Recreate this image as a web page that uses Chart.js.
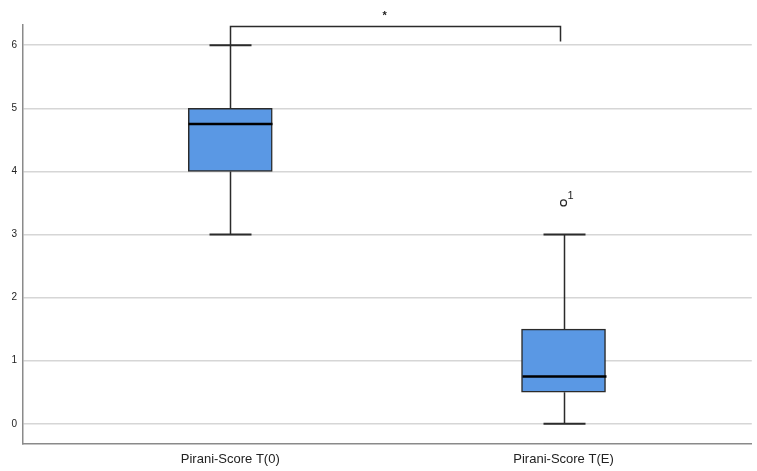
<!DOCTYPE html>
<html>
<head>
<meta charset="utf-8">
<script src="https://cdn.jsdelivr.net/npm/chart.js@4/dist/chart.umd.min.js"></script>
<style>
  body { margin: 0; background: #fff; }
  canvas { display: block; }
</style>
</head>
<body>
<canvas id="boxChart" width="757" height="471"></canvas>
<script>
// Box plot data
const categories = ['Pirani-Score T(0)', 'Pirani-Score T(E)'];
const positions = [1, 2];
const whiskerLow = [3, 0];
const q1 = [4, 0.5];
const median = [4.75, 0.75];
const q3 = [5, 1.5];
const whiskerHigh = [6, 3];

// Outliers: position, value, case label
const outlierPos = [2];
const outlierValue = [3.5];
const outlierLabel = ['1'];

// Significance bracket between the two boxes
const bracketLevel = 6.3;
const bracketLegs = [6, 6.06];
const bracketText = '*';
const bracketTextPos = 1.463;

const yTicks = [0, 1, 2, 3, 4, 5, 6];

const BOX_FILL = '#5a98e4';
const LINE_DARK = '#2b2b2b';

// Draw whiskers, caps and medians on top of the floating bars
const boxPlotPlugin = {
    id: 'boxPlot',
    afterDatasetsDraw(chart) {
        const ctx = chart.ctx;
        const xs = chart.scales.x;
        const ys = chart.scales.y;
        const boxW = 84;
        const capW = 42;
        ctx.save();
        positions.forEach((p, i) => {
            const cx = Math.round(xs.getPixelForValue(p)) + 0.5;
            ctx.strokeStyle = LINE_DARK;
            ctx.lineWidth = 1.5;
            ctx.beginPath();
            ctx.moveTo(cx, ys.getPixelForValue(whiskerHigh[i]));
            ctx.lineTo(cx, ys.getPixelForValue(q3[i]));
            ctx.moveTo(cx, ys.getPixelForValue(q1[i]));
            ctx.lineTo(cx, ys.getPixelForValue(whiskerLow[i]));
            ctx.stroke();
            // caps
            ctx.lineWidth = 2;
            ctx.beginPath();
            [whiskerHigh[i], whiskerLow[i]].forEach(v => {
                const y = ys.getPixelForValue(v);
                ctx.moveTo(cx - capW / 2, y);
                ctx.lineTo(cx + capW / 2, y);
            });
            ctx.stroke();
            // median
            ctx.strokeStyle = '#000';
            ctx.lineWidth = 2.5;
            ctx.beginPath();
            const my = ys.getPixelForValue(median[i]);
            ctx.moveTo(cx - boxW / 2, my);
            ctx.lineTo(cx + boxW / 2, my);
            ctx.stroke();
        });

        // outlier labels
        ctx.fillStyle = '#222';
        ctx.font = '11px "Liberation Sans", Arial, sans-serif';
        ctx.textAlign = 'left';
        ctx.textBaseline = 'middle';
        outlierPos.forEach((p, i) => {
            ctx.fillText(outlierLabel[i], xs.getPixelForValue(p) + 4, ys.getPixelForValue(outlierValue[i]) - 7);
        });

        // significance bracket
        const x1 = Math.round(xs.getPixelForValue(positions[0])) + 0.5;
        const x2 = Math.round(xs.getPixelForValue(positions[1])) - 3.5;
        const by = Math.round(ys.getPixelForValue(bracketLevel)) + 0.5;
        ctx.strokeStyle = LINE_DARK;
        ctx.lineWidth = 1.5;
        ctx.beginPath();
        ctx.moveTo(x1, ys.getPixelForValue(bracketLegs[0]));
        ctx.lineTo(x1, by);
        ctx.lineTo(x2, by);
        ctx.lineTo(x2, ys.getPixelForValue(bracketLegs[1]));
        ctx.stroke();
        ctx.fillStyle = '#222';
        ctx.font = 'bold 11px "Liberation Sans", Arial, sans-serif';
        ctx.textAlign = 'center';
        ctx.textBaseline = 'middle';
        ctx.fillText(bracketText, xs.getPixelForValue(bracketTextPos), by - 11);
        ctx.restore();
    }
};

function init() {
    const ctx = document.getElementById('boxChart').getContext('2d');
    new Chart(ctx, {
        data: {
            datasets: [{
                type: 'bar',
                data: positions.map((p, i) => ({ x: p, y: [q1[i], q3[i]] })),
                backgroundColor: BOX_FILL,
                borderColor: LINE_DARK,
                borderWidth: 1.5,
                borderSkipped: false,
                barThickness: 84,
                order: 2
            }, {
                type: 'scatter',
                data: outlierPos.map((p, i) => ({ x: p, y: outlierValue[i] })),
                pointStyle: 'circle',
                pointRadius: 3,
                backgroundColor: '#fff',
                borderColor: LINE_DARK,
                borderWidth: 1.2,
                order: 1
            }]
        },
        options: {
            responsive: false,
            animation: false,
            layout: { padding: { top: 25, right: 0, left: 0, bottom: 0 } },
            plugins: {
                legend: { display: false },
                tooltip: { enabled: false }
            },
            scales: {
                x: {
                    type: 'linear',
                    offset: false,
                    min: 0.378,
                    max: 2.565,
                    afterBuildTicks: scale => { scale.ticks = positions.map(v => ({ value: v })); },
                    afterFit: scale => { scale.height = 27; scale.paddingRight = 0; scale.paddingLeft = 0; },
                    grid: { display: false, drawTicks: false, offset: false },
                    border: { display: true, color: '#8a8a8a', width: 1.5 },
                    ticks: {
                        padding: 8,
                        color: '#222',
                        font: { family: '"Liberation Sans", Arial, sans-serif', size: 13 },
                        callback: (v) => categories[positions.indexOf(v)] || ''
                    }
                },
                y: {
                    min: -0.32,
                    max: 6.32,
                    afterBuildTicks: scale => { scale.ticks = yTicks.map(v => ({ value: v })); },
                    afterFit: scale => { scale.width = 23; },
                    grid: { color: '#d6d6d6', lineWidth: 1.5, drawTicks: false },
                    border: { display: true, color: '#8a8a8a', width: 1.5 },
                    ticks: {
                        padding: 6,
                        color: '#222',
                        font: { family: '"Liberation Sans", Arial, sans-serif', size: 10 }
                    }
                }
            }
        },
        plugins: [boxPlotPlugin]
    });
}

document.addEventListener('DOMContentLoaded', init);
</script>
</body>
</html>
